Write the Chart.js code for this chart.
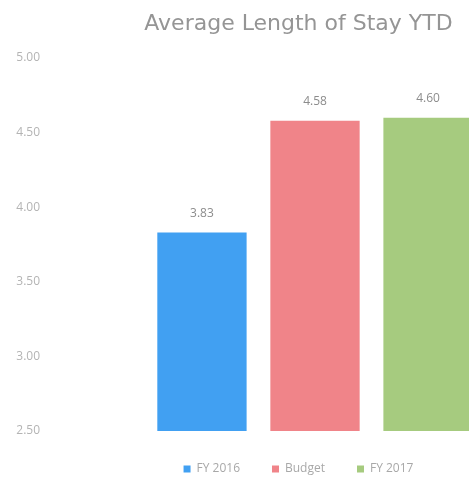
<!DOCTYPE html>
<html>
<head>
<meta charset="utf-8">
<title>Average Length of Stay YTD</title>
<script src="https://cdn.jsdelivr.net/npm/chart.js@4/dist/chart.umd.min.js"></script>
<style>
  html, body { margin: 0; padding: 0; background: #fff; overflow: hidden; }
  #wrap { position: absolute; left: 0; top: 0; width: 620px; height: 485px; }
</style>
</head>
<body>
<div id="wrap"><canvas id="alos"></canvas></div>
<script>
// one category, three series side by side
const categories = [''];
const seriesNames = ['FY 2016', 'Budget', 'FY 2017'];
const seriesValues = [[3.83], [4.58], [4.60]];
const seriesColors = ['#41a0f2', '#f08489', '#a6cb7f'];
const yTicks = [2.50, 3.00, 3.50, 4.00, 4.50, 5.00];

// value label above every bar
const valueLabels = {
  id: 'valueLabels',
  afterDatasetsDraw(chart) {
    const ctx = chart.ctx;
    ctx.save();
    ctx.font = '12px "Open Sans", sans-serif';
    ctx.fillStyle = '#8c8c8c';
    ctx.textAlign = 'center';
    ctx.textBaseline = 'middle';
    chart.data.datasets.forEach((ds, i) => {
      chart.getDatasetMeta(i).data.forEach((bar, j) => {
        ctx.fillText(ds.data[j].toFixed(2), bar.x, bar.y - 19);
      });
    });
    ctx.restore();
  }
};

new Chart(document.getElementById('alos'), {
  type: 'bar',
  data: {
    labels: categories,
    datasets: seriesNames.map((name, i) => ({
      label: name,
      data: seriesValues[i],
      backgroundColor: seriesColors[i],
      categoryPercentage: 0.628,
      barPercentage: 0.79
    }))
  },
  options: {
    responsive: true,
    maintainAspectRatio: false,
    animation: false,
    layout: { padding: { left: 12, right: 35, top: 0, bottom: 0 } },
    plugins: {
      title: {
        display: true,
        text: 'Average Length of Stay YTD',
        color: '#959595',
        font: { family: '"DejaVu Sans", sans-serif', size: 22, weight: 'normal' },
        padding: { top: 11, bottom: 20.6 }
      },
      legend: {
        position: 'bottom',
        labels: {
          boxWidth: 7,
          boxHeight: 7,
          padding: 32,
          color: '#a8a8a8',
          font: { family: '"Open Sans", sans-serif', size: 12 }
        }
      },
      tooltip: { enabled: false }
    },
    scales: {
      x: {
        grid: { display: false },
        border: { display: false },
        ticks: { display: false },
        afterFit(scale) { scale.height = 0; }
      },
      y: {
        min: 2.5,
        max: 5,
        grid: { display: false, drawTicks: false },
        border: { display: false },
        afterBuildTicks(scale) { scale.ticks = yTicks.map(v => ({ value: v })); },
        ticks: {
          padding: 5,
          color: '#b4b4b4',
          font: { family: '"Open Sans", sans-serif', size: 12 },
          callback: v => Number(v).toFixed(2)
        },
        afterFit(scale) { scale.width = 33; }
      }
    }
  },
  plugins: [valueLabels]
});
</script>
</body>
</html>
